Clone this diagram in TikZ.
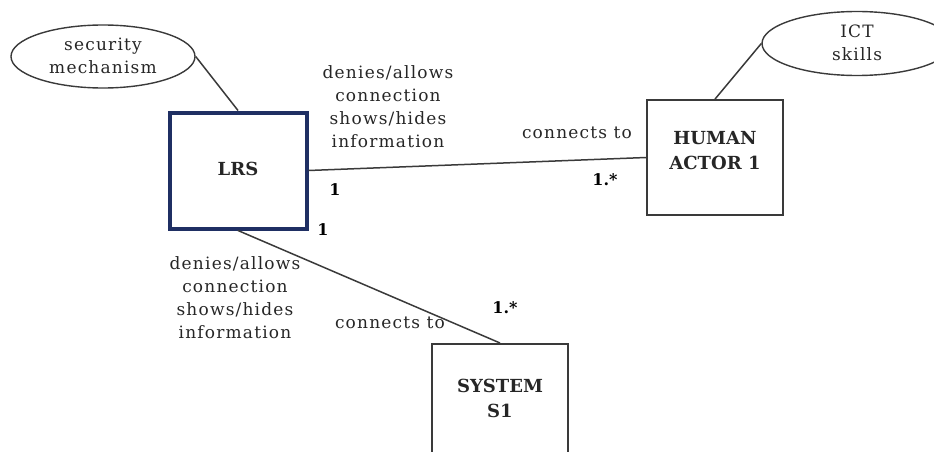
\documentclass[tikz,border=0pt]{standalone}
\usepackage{fontspec}
\setmainfont{DejaVu Serif}
\newfontfamily\lblfont[LetterSpace=7]{DejaVu Serif}
\usetikzlibrary{shapes.geometric}
\definecolor{navy}{HTML}{1F2F63}
\definecolor{ink}{HTML}{3A3A3A}
\definecolor{txt}{HTML}{262626}
\begin{document}
\begin{tikzpicture}[x=1pt,y=-1pt,
  lbl/.style={font=\lblfont\fontsize{17}{23}\selectfont, text=txt, align=center, inner sep=0pt},
  mult/.style={font=\bfseries\fontsize{16}{23}\selectfont, text=black, inner sep=0pt},
  entity/.style={draw=ink, line width=1.8pt, minimum width=136pt, minimum height=115pt, inner sep=0pt},
  attr/.style={ellipse, draw=ink, line width=1.4pt, inner sep=0pt},
  link/.style={draw=ink, line width=1.5pt},
  btxt/.style={font=\bfseries\fontsize{18}{25}\selectfont, text=txt, align=center, inner sep=0pt}
]
\useasboundingbox (0,0) rectangle (934,452);
% nodes
\node[draw=navy, line width=4pt, minimum width=137pt, minimum height=116pt, inner sep=0pt] (lrs) at (238,170.5) {};
\node[btxt] (lrst) at (238,169) {LRS};
\node[entity] (human) at (715,157.5) {};
\node[btxt] (humant) at (715,151) {HUMAN\\ACTOR 1};
\node[entity, minimum height=116pt, anchor=north] (sys) at (500,343) {};
\node[btxt] (syst) at (500,398) {SYSTEM\\S1};
\node[attr, minimum width=184pt, minimum height=63pt] (sec) at (103,56.5) {};
\node[lbl] (sect) at (103,56) {security\\mechanism};
\node[attr, minimum width=190pt, minimum height=64pt] (ict) at (857,43.5) {};
\node[lbl] (ictt) at (857,43) {ICT\\skills};
% connectors
\draw[link] (sec.east) -- (lrs.north);
\draw[link] (ict.west) -- (human.north);
\draw[link] (lrs.east) -- (human.west);
\draw[link] (lrs.south) -- (sys.north);
% labels
\node[lbl] (l1) at (388,107) {denies/allows\\connection\\shows/hides\\information};
\node[lbl] (c1) at (577,133) {connects to};
\node[mult] (m1) at (335,190) {1};
\node[mult] (m2) at (605,180) {1.*};
\node[lbl] (l2) at (235,298) {denies/allows\\connection\\shows/hides\\information};
\node[lbl] (c2) at (390,323) {connects to};
\node[mult] (m3) at (323,230) {1};
\node[mult] (m4) at (505,308) {1.*};
\end{tikzpicture}
\end{document}
